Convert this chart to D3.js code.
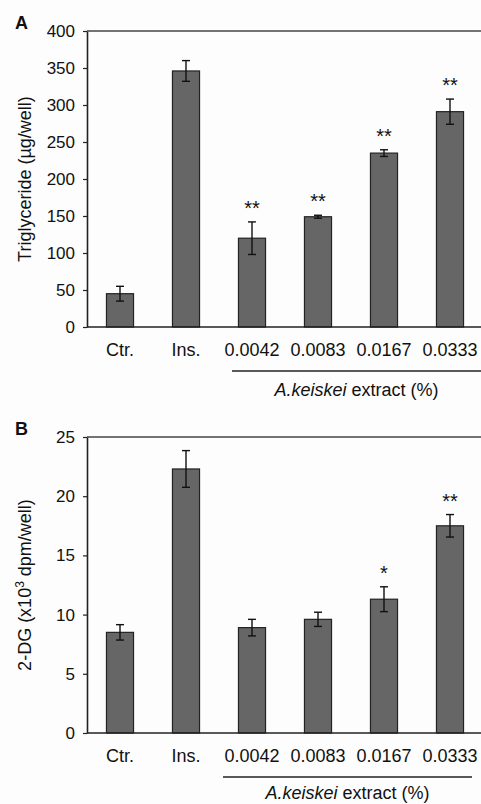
<!DOCTYPE html>
<html lang="en">
  <head>
    <meta charset="utf-8">
    <title>A. keiskei extract</title>
    <script src="https://cdn.jsdelivr.net/npm/d3@7"></script>
    <style>
      body { margin: 0; background: #fdfdfd; }
      text { font-family: Arial, "Liberation Sans", sans-serif; fill: #111; }
    </style>
  </head>
  <body>
    <script>
      // data
      var groups = ["Ctr.", "Ins.", "0.0042", "0.0083", "0.0167", "0.0333"];

      var tgMean = [45, 346, 120, 149, 235, 291];
      var tgErr  = [10, 14, 22, 2, 4.5, 17];
      var tgSig  = ["", "", "**", "**", "**", "**"];
      var tgTicks = [0, 50, 100, 150, 200, 250, 300, 350, 400];

      var dgMean = [8.5, 22.3, 8.9, 9.6, 11.3, 17.5];
      var dgErr  = [0.65, 1.55, 0.7, 0.6, 1.05, 0.95];
      var dgSig  = ["", "", "", "", "*", "**"];
      var dgTicks = [0, 5, 10, 15, 20, 25];

      var W = 481, H = 804;

      var svg = d3.select("body").append("svg")
                  .attr("width", W)
                  .attr("height", H);

      var x = d3.scaleBand()
                .domain(groups)
                .range([87, 483])
                .paddingInner(0.59)
                .paddingOuter(0.295);

      function panel(letter, top, bottom, max, ticks, mean, err, sig, ytitle, lineFrom, lineTo, labDy) {
        var y = d3.scaleLinear().domain([0, max]).range([bottom, top]);
        var g = svg.append("g");

        // top frame line
        g.append("line")
          .attr("x1", 87).attr("x2", W)
          .attr("y1", y(max)).attr("y2", y(max))
          .attr("stroke", "#444").attr("stroke-width", 1.6);

        g.selectAll("rect")
          .data(mean)
          .enter().append("rect")
          .attr("x", function(d, i) { return x(groups[i]); })
          .attr("y", function(d) { return y(d); })
          .attr("width", x.bandwidth())
          .attr("height", function(d) { return y(0) - y(d); })
          .attr("fill", "#666")
          .attr("stroke", "#222")
          .attr("stroke-width", 1.2);

        // error bars
        var eb = g.selectAll(".eb").data(mean).enter().append("g");
        eb.append("line")
          .attr("x1", function(d, i) { return x(groups[i]) + x.bandwidth() / 2; })
          .attr("x2", function(d, i) { return x(groups[i]) + x.bandwidth() / 2; })
          .attr("y1", function(d, i) { return y(d + err[i]); })
          .attr("y2", function(d, i) { return y(d - err[i]); })
          .attr("stroke", "#111").attr("stroke-width", 1.4);
        [1, -1].forEach(function(s) {
          eb.append("line")
            .attr("x1", function(d, i) { return x(groups[i]) + x.bandwidth() / 2 - 4; })
            .attr("x2", function(d, i) { return x(groups[i]) + x.bandwidth() / 2 + 4; })
            .attr("y1", function(d, i) { return y(d + s * err[i]); })
            .attr("y2", function(d, i) { return y(d + s * err[i]); })
            .attr("stroke", "#111").attr("stroke-width", 1.4);
        });

        // significance marks
        g.selectAll(".sig").data(mean).enter().append("text")
          .attr("x", function(d, i) { return x(groups[i]) + x.bandwidth() / 2; })
          .attr("y", function(d, i) { return y(d + err[i]) - 7; })
          .attr("text-anchor", "middle")
          .style("font-size", "20px")
          .text(function(d, i) { return sig[i]; });

        // y axis
        var ya = g.append("g")
          .attr("transform", "translate(87,0)")
          .call(d3.axisLeft(y).tickValues(ticks).tickSize(4).tickSizeOuter(0).tickPadding(8));
        ya.select(".domain").attr("stroke", "#222").attr("stroke-width", 1.6);
        ya.selectAll(".tick line").attr("stroke", "#222").attr("stroke-width", 1.2);
        ya.selectAll("text").style("font-size", "17px").style("font-family", "Arial, 'Liberation Sans', sans-serif").attr("fill", "#111");

        // x axis baseline
        g.append("line")
          .attr("x1", 87).attr("x2", W)
          .attr("y1", y(0)).attr("y2", y(0))
          .attr("stroke", "#222").attr("stroke-width", 1.6);

        g.selectAll(".xl").data(groups).enter().append("text")
          .attr("x", function(d) { return x(d) + x.bandwidth() / 2; })
          .attr("y", y(0) + 29)
          .attr("text-anchor", "middle")
          .style("font-size", "18px")
          .text(function(d) { return d; });

        // extract bracket
        g.append("line")
          .attr("x1", lineFrom).attr("x2", lineTo)
          .attr("y1", y(0) + 44).attr("y2", y(0) + 44)
          .attr("stroke", "#222").attr("stroke-width", 1.4);
        var lab = g.append("text")
          .attr("x", (lineFrom + lineTo) / 2)
          .attr("y", y(0) + labDy)
          .attr("text-anchor", "middle")
          .style("font-size", "18px");
        lab.append("tspan").style("font-style", "italic").text("A.keiskei");
        lab.append("tspan").text(" extract (%)");

        // panel letter
        g.append("text")
          .attr("x", 15).attr("y", top - 2)
          .style("font-size", "18px").style("font-weight", "bold")
          .text(letter);

        // y title
        var yt = g.append("text")
          .attr("transform", "translate(31," + (top + bottom) / 2 + ") rotate(-90)")
          .attr("text-anchor", "middle")
          .style("font-size", "18px");
        ytitle(yt);
      }

      var c0 = x("0.0042") + x.bandwidth() / 2;
      var c5 = x("0.0333") + x.bandwidth() / 2;

      panel("A", 31, 327, 400, tgTicks, tgMean, tgErr, tgSig, function(t) {
        t.text("Triglyceride (\u00b5g/well)");
      }, c0 - 20, W, 69);

      panel("B", 437, 733, 25, dgTicks, dgMean, dgErr, dgSig, function(t) {
        t.append("tspan").text("2-DG (x10");
        t.append("tspan").attr("dy", -7).style("font-size", "12px").text("3");
        t.append("tspan").attr("dy", 7).text(" dpm/well)");
      }, c0 - 29, c5 + 22, 66);
    </script>
  </body>
</html>
